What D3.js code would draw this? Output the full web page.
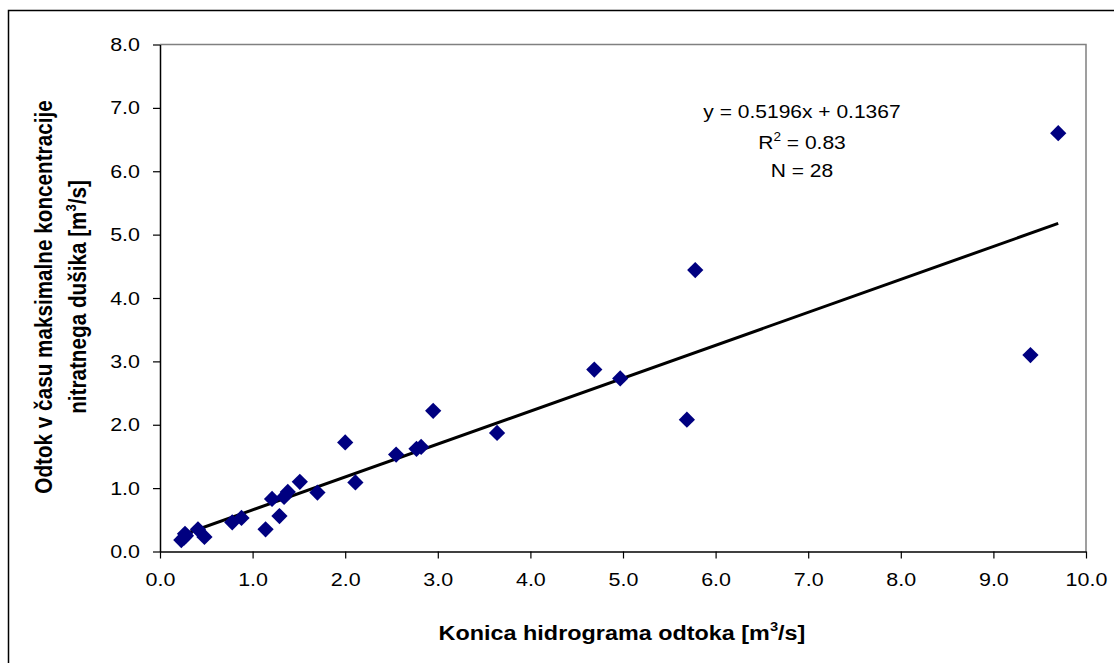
<!DOCTYPE html>
<html><head><meta charset="utf-8">
<script src="https://cdn.jsdelivr.net/npm/d3@7"></script>
<style>body{margin:0;background:#fff}svg{display:block}text{font-family:"Liberation Sans",Arial,sans-serif}</style>
</head><body>
<svg id="c" width="1114" height="663"></svg>
<script>
const xVals = [9.70, 9.40, 5.78, 5.69, 4.97, 4.69, 3.64, 2.95, 2.77, 2.82, 2.55, 2.00, 2.11, 1.70, 1.51, 1.38, 1.34, 1.21, 1.29, 1.14, 0.88, 0.78, 0.48, 0.41, 0.27, 0.23, 0.26, 0.28];
const yVals = [6.60, 3.10, 4.44, 2.08, 2.73, 2.87, 1.87, 2.22, 1.62, 1.65, 1.53, 1.72, 1.09, 0.93, 1.10, 0.94, 0.86, 0.83, 0.56, 0.35, 0.53, 0.46, 0.23, 0.35, 0.28, 0.18, 0.22, 0.25];
const xTicks = [0,1,2,3,4,5,6,7,8,9,10];
const yTicks = [0,1,2,3,4,5,6,7,8];
const slope = 0.5196, intercept = 0.1367;
const eqLines = ["y = 0.5196x + 0.1367", "R2 = 0.83", "N = 28"];

const SX = 1.13; // horizontal stretch of glyphs in the reference
const svg = d3.select("#c");
const L = 160, R = 1086, T = 44.5, B = 551.5;
const x = d3.scaleLinear().domain([0,10]).range([L,R]);
const y = d3.scaleLinear().domain([0,8]).range([B,T]);

// outer border
svg.append("rect").attr("x",8.5).attr("y",10.5).attr("width",1200).attr("height",800)
  .attr("fill","none").attr("stroke","#000").attr("stroke-width",1.5);

// plot area border (top/right gray)
svg.append("path").attr("d",`M${L},${T}H${R}V${B}`).attr("fill","none").attr("stroke","#808080").attr("stroke-width",1.5);

const xAxis = svg.append("g").attr("transform",`translate(0,${B})`)
  .call(d3.axisBottom(x).tickValues(xTicks).tickFormat(d3.format(".1f")).tickSize(7).tickSizeOuter(0));
const yAxis = svg.append("g").attr("transform",`translate(${L},0)`)
  .call(d3.axisLeft(y).tickValues(yTicks).tickFormat(d3.format(".1f")).tickSize(7).tickSizeOuter(0));
[xAxis,yAxis].forEach(g=>{
  g.select(".domain").attr("stroke","#000").attr("stroke-width",1.5);
  g.selectAll(".tick line").attr("stroke","#000").attr("stroke-width",1.2);
  g.selectAll(".tick text").attr("font-size",19).attr("fill","#000").attr("font-family","Liberation Sans, Arial, sans-serif");
});
xAxis.selectAll(".tick text").attr("y",21).attr("dy","0.71em").attr("transform",`scale(${SX},1)`);
yAxis.selectAll(".tick text").attr("x",-20/SX).attr("transform",`scale(${SX},1)`);

// trend line
const xmin = d3.min(xVals), xmax = d3.max(xVals);
svg.append("line").attr("x1",x(xmin)).attr("y1",y(slope*xmin+intercept))
  .attr("x2",x(xmax)).attr("y2",y(slope*xmax+intercept))
  .attr("stroke","#000").attr("stroke-width",3);

// points
const diamond = d3.symbol().type(d3.symbolSquare).size(132);
svg.append("g").selectAll("path").data(xVals.map((v,i)=>[v,yVals[i]])).join("path")
  .attr("d",diamond)
  .attr("transform",d=>`translate(${x(d[0])},${y(d[1])}) rotate(45)`)
  .attr("fill","#000080");

// equation text
function hText(parent, cx, cy){
  return parent.append("g").attr("transform",`translate(${cx},${cy}) scale(${SX},1)`).append("text").attr("x",0).attr("y",0);
}
const eq = svg.append("g").attr("font-size",18.6).attr("text-anchor","middle").attr("fill","#000");
hText(eq,802,118).text(eqLines[0]);
const r2 = hText(eq,802,149);
r2.append("tspan").text("R");
r2.append("tspan").attr("font-size",12).attr("dy",-8).text("2");
r2.append("tspan").attr("dy",8).text(" = 0.83");
hText(eq,802,177).text(eqLines[2]);

// x title
const xtg = svg.append("g").attr("font-size",20.7).attr("font-weight","bold").attr("text-anchor","middle");
const xt = hText(xtg,622,640);
xt.append("tspan").text("Konica hidrograma odtoka [m");
xt.append("tspan").attr("font-size",13).attr("dy",-9).text("3");
xt.append("tspan").attr("dy",9).text("/s]");

// y title (rotated; glyph stretch maps to screen x)
const yt = svg.append("g").attr("transform",`translate(0,297) rotate(-90) scale(1,${SX})`)
  .attr("font-size",20.7).attr("font-weight","bold").attr("text-anchor","middle");
yt.append("text").attr("x",0).attr("y",52/SX).text("Odtok v času maksimalne koncentracije");
const yt2 = yt.append("text").attr("x",0).attr("y",86/SX);
yt2.append("tspan").text("nitratnega dušika [m");
yt2.append("tspan").attr("font-size",13).attr("dy",-9).text("3");
yt2.append("tspan").attr("dy",9).text("/s]");
</script>
</body></html>
